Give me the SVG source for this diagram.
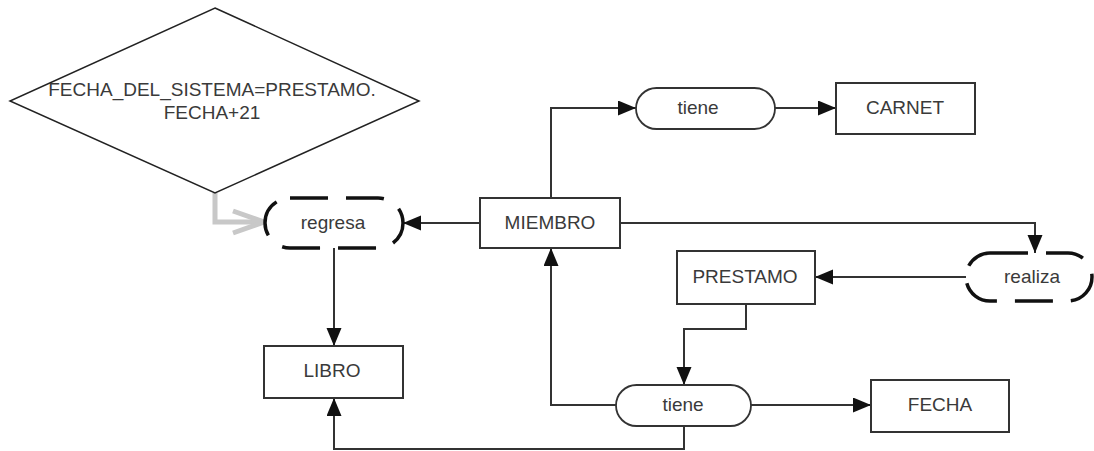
<svg xmlns="http://www.w3.org/2000/svg" width="1094" height="451" viewBox="0 0 1094 451">
  <style>
    .box { fill: #ffffff; stroke: #333333; stroke-width: 2; }
    .pill { fill: #ffffff; stroke: #333333; stroke-width: 1.8; }
    .dash { fill: #ffffff; stroke: #111111; stroke-width: 3.5; stroke-dasharray: 38 18; }
    .lbl { font-family: "Liberation Sans", Arial, sans-serif; font-size: 19px; fill: #3a3a3a; text-anchor: middle; }
    .conn { fill: none; stroke: #333333; stroke-width: 2; }
    .gray { fill: none; stroke: #c8c8c8; stroke-width: 5; stroke-linejoin: miter; }
  </style>
  <defs>
    <marker id="arr" markerUnits="userSpaceOnUse" markerWidth="19" markerHeight="16" refX="18" refY="7.5" orient="auto">
      <path d="M0,0 L18,7.5 L0,15 z" fill="#111111"/>
    </marker>
  </defs>
  <rect x="0" y="0" width="1094" height="451" fill="#ffffff"/>

  <g id="connectors">
    <path class="gray" d="M215,193 V222 H262"/>
    <path class="gray" d="M233,211 L264,222 L233,233"/>
    <path class="conn" d="M480,223 H403" marker-end="url(#arr)"/>
    <path class="conn" d="M551,198 V108 H636" marker-end="url(#arr)"/>
    <path class="conn" d="M775,108 H836" marker-end="url(#arr)"/>
    <path class="conn" d="M620,223 H1035 V253" marker-end="url(#arr)"/>
    <path class="conn" d="M966,277 H815" marker-end="url(#arr)"/>
    <path class="conn" d="M746,304 V329 H684 V385" marker-end="url(#arr)"/>
    <path class="conn" d="M616,405 H551 V248" marker-end="url(#arr)"/>
    <path class="conn" d="M751,405 H871" marker-end="url(#arr)"/>
    <path class="conn" d="M684,426 V449 H334 V398" marker-end="url(#arr)"/>
    <path class="conn" d="M334,248 V346" marker-end="url(#arr)"/>
  </g>

  <g id="condicion">
    <polygon points="215,8 419,101 215,193 10,101" fill="#ffffff" stroke="#222222" stroke-width="1.5"/>
    <text class="lbl" x="212" y="96">FECHA_DEL_SISTEMA=PRESTAMO.</text>
    <text class="lbl" x="212" y="119">FECHA+21</text>
  </g>

  <g id="regresa">
    <rect class="dash" x="265" y="198" width="138" height="50" rx="25" ry="25"/>
    <text class="lbl" x="333" y="229">regresa</text>
  </g>

  <g id="miembro">
    <rect class="box" x="480" y="198" width="140" height="50"/>
    <text class="lbl" x="550" y="229">MIEMBRO</text>
  </g>

  <g id="tiene-carnet">
    <rect class="pill" x="636" y="88" width="139" height="41" rx="20.5" ry="20.5"/>
    <text class="lbl" x="698" y="114">tiene</text>
  </g>

  <g id="carnet">
    <rect class="box" x="836" y="83" width="139" height="51"/>
    <text class="lbl" x="905" y="114">CARNET</text>
  </g>

  <g id="realiza">
    <rect class="dash" x="966" y="253" width="126" height="48" rx="24" ry="24"/>
    <text class="lbl" x="1032" y="283">realiza</text>
  </g>

  <g id="prestamo">
    <rect class="box" x="677" y="251" width="138" height="53"/>
    <text class="lbl" x="745" y="283">PRESTAMO</text>
  </g>

  <g id="libro">
    <rect class="box" x="264" y="346" width="139" height="52"/>
    <text class="lbl" x="332" y="377">LIBRO</text>
  </g>

  <g id="tiene-fecha">
    <rect class="pill" x="616" y="385" width="135" height="41" rx="20.5" ry="20.5"/>
    <text class="lbl" x="683" y="411">tiene</text>
  </g>

  <g id="fecha">
    <rect class="box" x="871" y="380" width="138" height="52"/>
    <text class="lbl" x="940" y="411">FECHA</text>
  </g>
</svg>
